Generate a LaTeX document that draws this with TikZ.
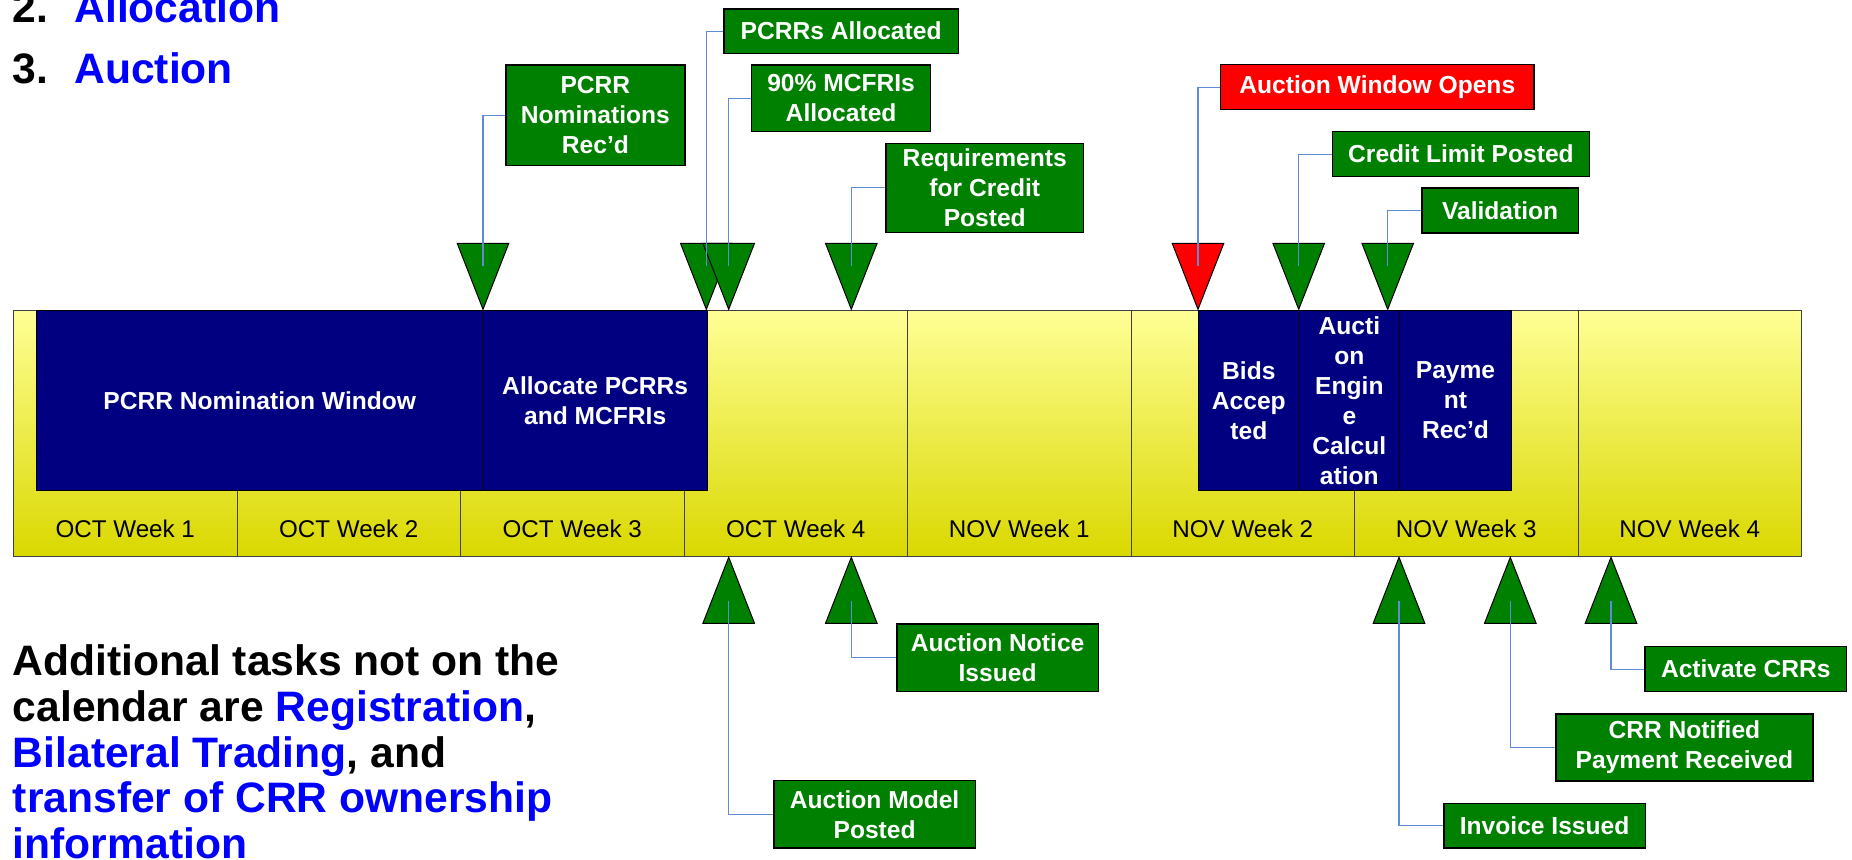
\documentclass[tikz,border=0pt]{standalone}
\usepackage{fontspec}
\setmainfont{Liberation Sans}
\definecolor{gfill}{RGB}{0,128,0}
\definecolor{navy}{RGB}{0,0,128}
\definecolor{conn}{RGB}{95,140,215}
\definecolor{ytop}{RGB}{255,255,150}
\definecolor{ybot}{RGB}{218,216,0}
\definecolor{pblue}{RGB}{0,0,255}
\begin{document}
\begin{tikzpicture}[x=0.5pt,y=-0.5pt,
  evbox/.style={draw=black, line width=0.6pt, fill=gfill, text=white,
    font=\bfseries\fontsize{12.3}{15}\selectfont, align=center, inner sep=0pt, anchor=north west},
  redbox/.style={evbox, fill=red},
  taskbox/.style={draw=black, line width=0.5pt, fill=navy, text=white,
    font=\bfseries\fontsize{12.3}{15}\selectfont, align=center, inner sep=0pt,
    anchor=north west, minimum height=90pt},
  weekcell/.style={top color=ytop, bottom color=ybot, draw=black!75, line width=0.5pt},
  weeklabel/.style={anchor=base, inner sep=0pt, font=\fontsize{12.1}{14}\selectfont},
  tri/.style={fill=gfill, draw=black, line width=0.5pt, line join=miter},
  redtri/.style={tri, fill=red},
  leader/.style={draw=conn, line width=0.6pt},
  big/.style={anchor=base west, inner sep=0pt, font=\bfseries\fontsize{21.3}{25}\selectfont},
  hl/.style={text=pblue}
]
\clip (0,0) rectangle (1852,859);
\fill[white] (0,0) rectangle (1852,859);

% ---------- top-left list ----------
\node[big] (num2) at (12.5,22.7) {2.};
\node[big,hl] (item2) at (74,22.7) {Allocation};
\node[big] (num3) at (12.5,83.3) {3.};
\node[big,hl] (item3) at (74,83.3) {Auction};

% ---------- calendar ----------
\foreach \i in {0,...,7}{
  \shade[weekcell] ({13.5+223.5*\i},310) rectangle ({13.5+223.5*(\i+1)},556);
}
\node[weeklabel] (w1) at (125.25,537.3) {OCT Week 1};
\node[weeklabel] (w2) at (348.75,537.3) {OCT Week 2};
\node[weeklabel] (w3) at (572.25,537.3) {OCT Week 3};
\node[weeklabel] (w4) at (795.75,537.3) {OCT Week 4};
\node[weeklabel] (w5) at (1019.25,537.3) {NOV Week 1};
\node[weeklabel] (w6) at (1242.75,537.3) {NOV Week 2};
\node[weeklabel] (w7) at (1466.25,537.3) {NOV Week 3};
\node[weeklabel] (w8) at (1689.75,537.3) {NOV Week 4};

% ---------- task blocks ----------
\node[taskbox, minimum width=223.5pt] (pnw) at (35.7,310) {PCRR Nomination Window};
\node[taskbox, minimum width=112pt] (alloc) at (482.7,310) {Allocate PCRRs\\and MCFRIs};
\node[taskbox, minimum width=50.35pt] (bids) at (1198,310) {Bids\\Accep\\ted};
\node[taskbox, minimum width=50.15pt] (eng) at (1298.7,310) {Aucti\\on\\Engin\\e\\Calcul\\ation};
\node[taskbox, minimum width=56pt] (pay) at (1399,310) {Payme\\nt\\Rec’d};

% ---------- triangles above ----------
\foreach \cx/\nm/\st in {483/ta/tri, 706.3/tb/tri, 728.7/tc/tri, 851.3/td/tri,
                         1198/te/redtri, 1298.7/tf/tri, 1387.7/tg/tri}{
  \filldraw[\st] (\cx-25.8,243.3) -- (\cx+25.8,243.3) -- (\cx,309.3) -- cycle;
  \coordinate (\nm) at (\cx,265.7);
}
% ---------- triangles below ----------
\foreach \cx/\nm in {728.7/ua, 851.3/ub, 1399/uc, 1510.3/ud, 1611/ue}{
  \filldraw[tri] (\cx-25.8,623.3) -- (\cx+25.8,623.3) -- (\cx,557.3) -- cycle;
  \coordinate (\nm) at (\cx,601);
}

% ---------- event boxes ----------
\node[evbox, minimum width=89.5pt, minimum height=50.2pt] (nom) at (505.3,64.3) {PCRR\\Nominations\\Rec’d};
\node[evbox, minimum width=117.2pt, minimum height=22.2pt] (palloc) at (723.3,8.3) {PCRRs Allocated};
\node[evbox, minimum width=89.5pt, minimum height=33.35pt] (mcfri) at (751,64.3) {90\% MCFRIs\\Allocated};
\node[evbox, minimum width=98.85pt, minimum height=44.5pt] (req) at (885.3,142.7) {Requirements\\for Credit\\Posted};
\node[redbox, minimum width=156.65pt, minimum height=22.5pt] (awo) at (1220,64) {Auction Window Opens};
\node[evbox, minimum width=128.65pt, minimum height=22.5pt] (clp) at (1331.7,131) {Credit Limit Posted};
\node[evbox, minimum width=78.2pt, minimum height=22.5pt] (val) at (1421.3,187.3) {Validation};
\node[evbox, minimum width=100.7pt, minimum height=33.65pt] (amp) at (773.3,780) {Auction Model\\Posted};
\node[evbox, minimum width=100.7pt, minimum height=33.85pt] (ani) at (896.3,623.3) {Auction Notice\\Issued};
\node[evbox, minimum width=100.85pt, minimum height=22.5pt] (act) at (1644.3,646) {Activate CRRs};
\node[evbox, minimum width=128.5pt, minimum height=33.5pt] (crrn) at (1555.3,713.3) {CRR Notified\\Payment Received};
\node[evbox, minimum width=100.7pt, minimum height=22.3pt] (inv) at (1443.3,802.7) {Invoice Issued};

% ---------- leader lines ----------
\draw[leader] (ta) |- (nom.west);
\draw[leader] (tb) |- (palloc.west);
\draw[leader] (tc) |- (mcfri.west);
\draw[leader] (td) |- (req.west);
\draw[leader] (te) |- (awo.west);
\draw[leader] (tf) |- (clp.west);
\draw[leader] (tg) |- (val.west);
\draw[leader] (ua) |- (amp.west);
\draw[leader] (ub) |- (ani.west);
\draw[leader] (uc) |- (inv.west);
\draw[leader] (ud) |- (crrn.west);
\draw[leader] (ue) |- (act.west);

% ---------- bottom-left note ----------
\node[big] (note1) at (12.5,675.7) {Additional tasks not on the};
\node[big] (note2) at (12.5,721.4) {calendar are \textcolor{pblue}{Registration},};
\node[big] (note3) at (12.5,767.1) {\textcolor{pblue}{Bilateral Trading}, and};
\node[big,hl] (note4) at (12.5,812.8) {transfer of CRR ownership};
\node[big,hl] (note5) at (12.5,858.5) {information};
\end{tikzpicture}
\end{document}
